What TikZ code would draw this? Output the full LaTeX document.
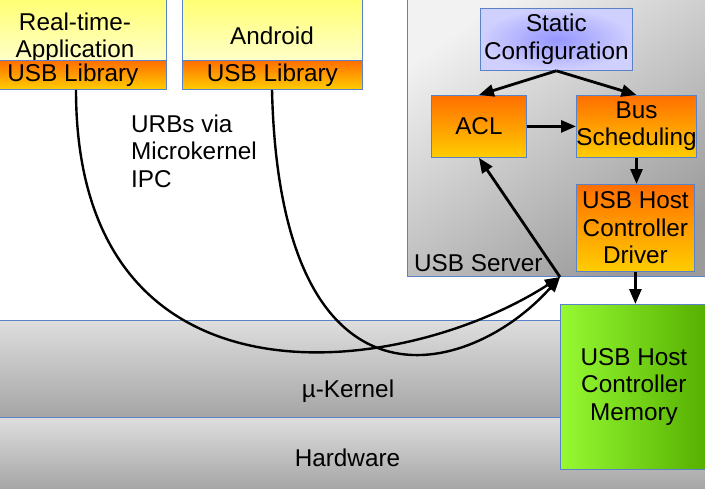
\documentclass[tikz,border=0pt]{standalone}
\usepackage{fontspec}
\setmainfont{Liberation Sans}
\usetikzlibrary{arrows.meta}
\definecolor{bordc}{RGB}{90,130,200}
\definecolor{yelT}{RGB}{255,255,110}
\definecolor{yelB}{RGB}{255,255,200}
\definecolor{orT}{RGB}{255,110,0}
\definecolor{orB}{RGB}{255,205,0}
\definecolor{grL}{RGB}{150,250,50}
\definecolor{grR}{RGB}{85,175,0}
\definecolor{bluO}{RGB}{208,208,255}
\definecolor{bluI}{RGB}{150,150,255}
\definecolor{gsvL}{RGB}{242,242,242}
\definecolor{gsvD}{RGB}{155,155,155}
\definecolor{gkT}{RGB}{222,222,222}
\definecolor{gkB}{RGB}{165,165,165}
\newcommand{\dfont}{\fontsize{24.3}{27.5}\selectfont}
\begin{document}
\begin{tikzpicture}[x=1pt,y=-1pt,
  blk/.style={draw=bordc, line width=0.8pt, inner sep=0pt, align=center, font=\dfont, anchor=north west},
  txt/.style={inner sep=0pt, font=\dfont, align=center},
  arr/.style={line width=2.8pt, -{Triangle[length=15pt,width=12pt]}},
  yel/.style={blk, top color=yelT, bottom color=yelB},
  ora/.style={blk, top color=orT, bottom color=orB},
  band/.style={anchor=north west, inner sep=0pt, top color=gkT, bottom color=gkB},
]
\useasboundingbox (0,0) rectangle (705,488);
\fill[white] (0,0) rectangle (705,488);
\clip (0,0) rectangle (705,488);

% kernel and hardware bands
\node[band, minimum width=708pt, minimum height=97pt] (kernel) at (-1,320) {};
\node[band, minimum width=708pt, minimum height=72pt] (hw) at (-1,417) {};
\draw[bordc, line width=0.8pt] (kernel.north west) -- (kernel.north east);
\draw[bordc, line width=0.8pt] (hw.north west) -- (hw.north east);
\node[txt] (kerneltxt) at (348,391) {µ-Kernel};
\node[txt] (hwtxt) at (347.5,458) {Hardware};

% host controller memory
\node[blk, left color=grL, right color=grR, minimum width=147pt, minimum height=165pt] (mem) at (560,304) {USB Host\\Controller\\Memory};

% applications
\node[yel, minimum width=187pt, minimum height=65pt] (rtapp) at (-21,-5) {};
\node[txt] (rtname) at (75,37.5) {Real-time-\\Application};
\node[ora, minimum width=187pt, minimum height=29pt] (rtlib) at (-21,60) {USB Library};

\node[yel, minimum width=180pt, minimum height=65pt] (andapp) at (182,-5) {};
\node[txt] (andname) at (272,35.5) {Android};
\node[ora, minimum width=180pt, minimum height=29pt] (andlib) at (182,60) {USB Library};

\node[txt, align=left, anchor=west] (urbtxt) at (131,151) {URBs via\\Microkernel\\IPC};

% USB server
\node[blk, top color=gsvL, bottom color=gsvD, shading angle=35, minimum width=302pt, minimum height=281pt] (server) at (407,-5) {};
\node[txt, anchor=west] (servertxt) at (414,263.4) {USB Server};

\node[blk, inner color=bluI, outer color=bluO, minimum width=152pt, minimum height=62pt] (static) at (480,8) {Static\\Configuration};
\node[ora, minimum width=95pt, minimum height=62pt] (acl) at (431,95) {ACL};
\node[ora, minimum width=116pt, minimum height=62pt] (bus) at (576,95) {Bus\\Scheduling};
\node[ora, minimum width=118pt, minimum height=87pt] (drv) at (576,184) {USB Host\\Controller\\Driver};

\coordinate (urbin) at (560,277);

% connectors
\draw[arr] (static.south) -- (acl.north);
\draw[arr] (static.south) -- (bus.north);
\draw[arr] (acl.east) -- (bus.west);
\draw[arr] (bus.south) -- (bus.south |- drv.north);
\draw[arr] (drv.south) -- (drv.south |- mem.north);
\draw[arr] (urbin) -- (acl.south);
\draw[arr, line width=2.4pt] (rtlib.south -| 76,0) .. controls (76,420) and (400,380) .. (urbin);
\draw[arr, line width=2.4pt] (andlib.south -| 272,0) .. controls (280,430) and (470,378) .. (urbin);
\end{tikzpicture}
\end{document}
